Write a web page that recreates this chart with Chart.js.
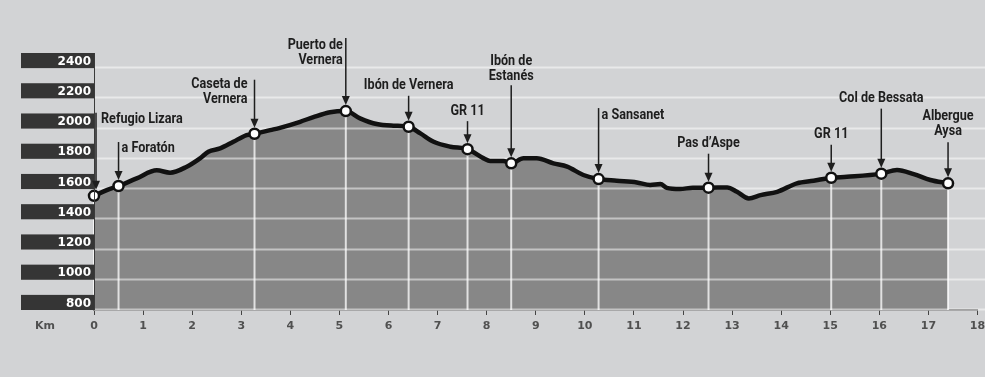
<!DOCTYPE html>
<html lang="es">
<head>
<meta charset="UTF-8">
<title>Perfil Refugio Lizara - Albergue Aysa</title>
<script src="https://cdn.jsdelivr.net/npm/chart.js"></script>
<style>
    html, body { margin: 0; padding: 0; background: #d2d3d5; }
    .chart-container { width: 985px; height: 377px; }
</style>
</head>
<body>
<div class="chart-container">
    <canvas id="perfil"></canvas>
</div>
<script>
// profile (km, altitude m)
const profKm   = [0, 0.26, 0.5, 0.87, 1.28, 1.55, 1.89, 2.16, 2.33, 2.57, 2.84, 3.11, 3.27, 3.59, 3.79, 4.2, 4.47, 4.81, 5.13,
                  5.42, 5.76, 6.1, 6.41, 6.65, 6.92, 7.26, 7.61, 7.94, 8.07, 8.34, 8.5, 8.75, 9.02, 9.36, 9.64, 9.97, 10.28,
                  10.65, 11.06, 11.33, 11.54, 11.67, 11.94, 12.2, 12.52, 12.9, 13.1, 13.34, 13.58, 13.92, 14.32, 14.66, 15.02,
                  15.34, 16.04, 16.36, 16.7, 17.04, 17.4];
const profElev = [1555, 1593, 1620, 1671, 1724, 1708, 1748, 1803, 1847, 1869, 1913, 1957, 1966, 1990, 2005, 2045, 2076, 2108, 2116,
                  2068, 2030, 2019, 2012, 1968, 1913, 1880, 1864, 1803, 1785, 1785, 1770, 1803, 1803, 1770, 1748, 1693, 1666,
                  1655, 1644, 1627, 1633, 1608, 1600, 1609, 1609, 1611, 1582, 1538, 1560, 1582, 1638, 1655, 1675,
                  1681, 1702, 1726, 1699, 1660, 1638];

// waypoints
const wpNames = [['Refugio Lizara'], ['a Foratón'], ['Caseta de', 'Vernera'], ['Puerto de', 'Vernera'], ['Ibón de Vernera'],
                 ['GR 11'], ['Ibón de', 'Estanés'], ['a Sansanet'], ['Pas d\u2019Aspe'], ['GR 11'], ['Col de Bessata'], ['Albergue', 'Aysa']];
const wpKm   = [0, 0.5, 3.27, 5.13, 6.41, 7.61, 8.5, 10.28, 12.52, 15.02, 16.04, 17.4];
const wpElev = [1555, 1620, 1966, 2116, 2012, 1864, 1770, 1666, 1609, 1675, 1702, 1638];

const yTicks = [800, 1000, 1200, 1400, 1600, 1800, 2000, 2200, 2400];

// label placement: side of arrow, arrow length (px), text offsets (px)
const wpLayout = [
    { side: 'left',   len: 83, dx: 5,  dy: 7 },
    { side: 'left',   len: 44, dx: 3,  dy: 6 },
    { side: 'right',  len: 54, dx: -7, dy: 5 },
    { side: 'right',  len: 73, dx: -3, dy: 7 },
    { side: 'center', len: 31, dx: 0,  dy: -10 },
    { side: 'center', len: 28, dx: 0,  dy: -10 },
    { side: 'center', len: 78, dx: 0,  dy: -24 },
    { side: 'left',   len: 71, dx: 3,  dy: 7 },
    { side: 'center', len: 34, dx: 0,  dy: -10 },
    { side: 'center', len: 33, dx: 0,  dy: -10 },
    { side: 'center', len: 65, dx: 0,  dy: -10 },
    { side: 'center', len: 41, dx: 0,  dy: -26 }
];

const profile = profKm.map((k, i) => ({ x: k, y: profElev[i] }));
const waypoints = wpKm.map((k, i) => ({ x: k, y: wpElev[i] }));

function condensedText(ctx, text, x, y, align) {
    ctx.save();
    ctx.translate(x, y);
    ctx.scale(0.9, 1);
    ctx.textAlign = align;
    ctx.fillText(text, 0, 0);
    ctx.restore();
}

const profilePlugin = {
    id: 'profile',
    beforeDraw(chart) {
        const ctx = chart.ctx;
        ctx.save();
        ctx.fillStyle = '#d2d3d5';
        ctx.fillRect(0, 0, chart.width, chart.height);
        ctx.restore();
    },
    afterDatasetDraw(chart, args) {
        if (args.index !== 0) return;
        const ctx = chart.ctx, area = chart.chartArea;
        const xs = chart.scales.x, ys = chart.scales.y;
        ctx.save();
        // horizontal grid
        ctx.strokeStyle = 'rgba(255,255,255,0.5)';
        ctx.lineWidth = 2;
        yTicks.forEach(v => {
            const y = Math.round(ys.getPixelForValue(v)) - 0.5;
            ctx.beginPath();
            ctx.moveTo(area.left, y);
            ctx.lineTo(chart.width, y);
            ctx.stroke();
        });
        // waypoint verticals
        ctx.strokeStyle = 'rgba(255,255,255,0.75)';
        ctx.lineWidth = 2;
        wpKm.forEach((k, i) => {
            const x = xs.getPixelForValue(k);
            ctx.beginPath();
            ctx.moveTo(x, ys.getPixelForValue(wpElev[i]));
            ctx.lineTo(x, area.bottom);
            ctx.stroke();
        });
        ctx.restore();
    },
    afterDraw(chart) {
        const ctx = chart.ctx, area = chart.chartArea;
        const xs = chart.scales.x, ys = chart.scales.y;
        ctx.save();
        // y labels in dark boxes
        ctx.font = 'bold 12px "DejaVu Sans"';
        ctx.textAlign = 'right';
        ctx.textBaseline = 'middle';
        yTicks.forEach(v => {
            const yb = ys.getPixelForValue(v);
            const yt = ys.getPixelForValue(v + 100);
            ctx.fillStyle = '#353535';
            ctx.fillRect(21, yt, area.left - 21, yb - yt);
            ctx.fillStyle = '#ffffff';
            ctx.fillText(String(v), area.left - 3, (yt + yb) / 2 + 1);
        });
        // left axis line
        ctx.strokeStyle = '#3a3a3a';
        ctx.lineWidth = 1;
        ctx.beginPath();
        ctx.moveTo(area.left + 0.5, area.top);
        ctx.lineTo(area.left + 0.5, area.bottom);
        ctx.stroke();
        // Km label
        ctx.fillStyle = '#505050';
        ctx.font = 'bold 11px "DejaVu Sans"';
        ctx.textAlign = 'center';
        ctx.fillText('Km', 45, area.bottom + 16);
        // arrows and names
        ctx.font = 'bold 14px Roboto';
        ctx.textBaseline = 'middle';
        wpKm.forEach((k, i) => {
            const lay = wpLayout[i];
            const x = xs.getPixelForValue(k) + (i === 0 ? 2 : 0);
            const tip = ys.getPixelForValue(wpElev[i]) - 6;
            const top = tip + 6 - lay.len;
            ctx.strokeStyle = '#1e1e1e';
            ctx.fillStyle = '#1e1e1e';
            ctx.lineWidth = 1.5;
            ctx.beginPath();
            ctx.moveTo(x, top);
            ctx.lineTo(x, tip - 6);
            ctx.stroke();
            ctx.beginPath();
            ctx.moveTo(x - 4, tip - 9);
            ctx.lineTo(x + 4, tip - 9);
            ctx.lineTo(x, tip);
            ctx.closePath();
            ctx.fill();
            const lines = wpNames[i];
            lines.forEach((t, j) => {
                condensedText(ctx, t, x + lay.dx, top + lay.dy + j * 15, lay.side);
            });
        });
        ctx.restore();
    }
};

new Chart(document.getElementById('perfil').getContext('2d'), {
    type: 'line',
    data: {
        datasets: [
            {
                data: profile,
                borderWidth: 0,
                backgroundColor: '#878787',
                fill: 'start',
                pointRadius: 0,
                cubicInterpolationMode: 'monotone',
                order: 3
            },
            {
                data: profile,
                borderColor: '#111111',
                borderWidth: 4.5,
                fill: false,
                pointRadius: 0,
                cubicInterpolationMode: 'monotone',
                clip: false,
                order: 2
            },
            {
                data: waypoints,
                showLine: false,
                pointRadius: 5,
                pointBackgroundColor: '#ffffff',
                pointBorderColor: '#111111',
                pointBorderWidth: 2.5,
                clip: false,
                order: 1
            }
        ]
    },
    options: {
        responsive: true,
        maintainAspectRatio: false,
        animation: false,
        layout: { padding: { top: 53, right: 7, left: 0, bottom: 0 } },
        scales: {
            x: {
                type: 'linear',
                min: 0,
                max: 18,
                ticks: {
                    stepSize: 1,
                    autoSkip: false,
                    maxRotation: 0,
                    padding: 5,
                    color: '#505050',
                    font: { family: 'DejaVu Sans', size: 11, weight: 'bold' }
                },
                grid: { drawOnChartArea: false, drawTicks: true, tickLength: 5, color: '#444444' },
                border: { display: true, color: '#444444', width: 1.5 },
                afterFit(scale) {
                    scale.height = 67;
                    scale.paddingLeft = 0;
                    scale.paddingRight = 0;
                }
            },
            y: {
                min: 800,
                max: 2500,
                ticks: { display: false },
                grid: { display: false },
                border: { display: false },
                afterFit(scale) { scale.width = 94; }
            }
        },
        plugins: {
            legend: { display: false },
            tooltip: { enabled: false }
        }
    },
    plugins: [profilePlugin]
});
</script>
</body>
</html>
